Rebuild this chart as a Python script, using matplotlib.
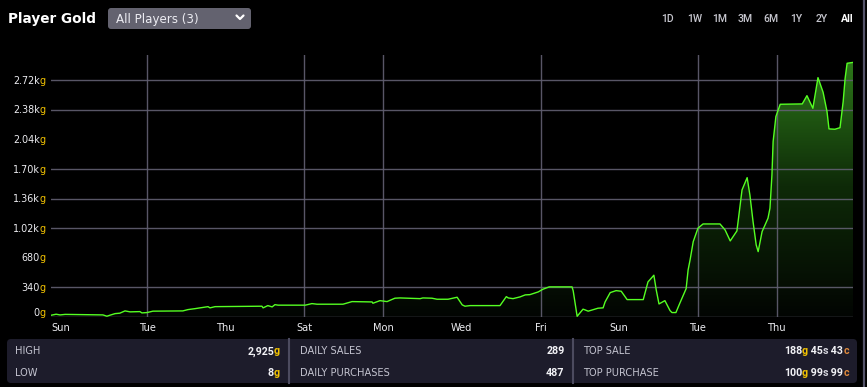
import numpy as np
import matplotlib
matplotlib.use("Agg")
import matplotlib.pyplot as plt
from matplotlib.colors import LinearSegmentedColormap
from matplotlib.patches import FancyBboxPatch
import matplotlib.transforms as mtransforms

# ---------------- data ----------------
days = [-0.44, -0.31, -0.21, -0.08, 0.88, 0.98, 1.06, 1.19, 1.31, 1.44, 1.57, 1.82, 1.87,
        2.00, 2.15, 2.91, 3.04, 3.22, 3.55, 3.60, 3.73, 4.92, 4.95, 5.07, 5.18, 5.25, 5.33,
        6.02, 6.19, 6.32, 6.98, 7.21, 7.72, 7.74, 7.92, 8.10, 8.18, 8.30, 8.43, 8.94, 9.01,
        9.24, 9.37, 9.65, 9.88, 10.01, 10.08, 10.21, 10.97, 11.13, 11.18, 11.30, 11.48, 11.61,
        11.73, 11.94, 12.06, 12.22, 12.80, 12.83, 12.93, 13.08, 13.13, 13.21, 13.38, 13.46,
        13.59, 13.64, 13.77, 13.92, 14.05, 14.20, 14.61, 14.73, 14.88, 14.94, 15.01, 15.16,
        15.29, 15.34, 15.44, 15.54, 15.70, 15.75, 15.80, 15.88, 16.00, 16.13, 16.56, 16.69,
        16.82, 16.99, 17.02, 17.12, 17.25, 17.32, 17.40, 17.48, 17.53, 17.63, 17.78, 17.83,
        17.88, 17.91, 17.98, 18.09, 18.65, 18.77, 18.92, 19.05, 19.18, 19.28, 19.33, 19.48,
        19.61, 19.69, 19.74, 19.79, 19.94]
gold = [20, 32, 24, 30, 24, 9, 21, 39, 44, 70, 59, 62, 47,
        51, 67, 70, 85, 96, 119, 105, 119, 124, 105, 131, 116, 142, 136,
        136, 154, 147, 147, 177, 173, 158, 188, 177, 193, 216, 219, 211, 219,
        216, 204, 204, 227, 139, 124, 131, 131, 234, 219, 211, 231, 254,
        257, 288, 319, 346, 346, 300, 8, 90, 82, 67, 90, 101,
        105, 173, 280, 303, 296, 200, 200, 403, 480, 311, 150, 188,
        74, 51, 51, 159, 326, 541, 656, 866, 1020, 1069, 1069, 1000,
        874, 989, 1096, 1460, 1601, 1402, 1096, 828, 751, 981, 1135, 1250,
        1632, 2015, 2302, 2444, 2448, 2543, 2398, 2750, 2582, 2359, 2161, 2157,
        2175, 2474, 2743, 2915, 2925]

ytick_values = [0, 340, 680, 1020, 1360, 1700, 2040, 2380, 2720]
ytick_labels = ["0", "340", "680", "1.02k", "1.36k", "1.70k", "2.04k", "2.38k", "2.72k"]
ygrid_values = [340, 1020, 1360, 1700, 2380, 2720]

xtick_pos = [-0.19, 2, 4, 6, 8, 10, 12, 14, 16, 18]
xtick_labels = ["Sun", "Tue", "Thu", "Sat", "Mon", "Wed", "Fri", "Sun", "Tue", "Thu"]
xgrid_pos = [2, 6, 8, 12, 16, 18]

ranges = ["1D", "1W", "1M", "3M", "6M", "1Y", "2Y", "All"]
range_x = [668, 694.5, 719.5, 745, 771, 796, 822, 847]

stats = [
    ("HIGH", [("2,925", "w"), ("g", "y")]),
    ("LOW", [("8", "w"), ("g", "y")]),
    ("DAILY SALES", [("289", "w")]),
    ("DAILY PURCHASES", [("487", "w")]),
    ("TOP SALE", [("188", "w"), ("g", "y"), (" 45", "w"), ("s", "s"), (" 43", "w"), ("c", "c")]),
    ("TOP PURCHASE", [("100", "w"), ("g", "y"), (" 99", "w"), ("s", "s"), (" 99", "w"), ("c", "c")]),
]

# ---------------- style ----------------
W, H = 867, 387
BG = "#000000"
GRID = "#626072"
LINE = "#55ff22"
YEL = "#f2c200"
COLS = {"w": "#f2f2f6", "y": YEL, "s": "#d4d4dc", "c": "#e08a3c"}
AXFONT = "DejaVu Sans"

fig = plt.figure(figsize=(W / 100, H / 100), dpi=100, facecolor=BG)

# background overlay in pixel coordinates
bg = fig.add_axes([0, 0, 1, 1], zorder=0)
bg.set_xlim(0, W)
bg.set_ylim(H, 0)
bg.axis("off")
bg.set_facecolor(BG)

ax = fig.add_axes([51 / W, 1 - 317 / H, (853 - 51) / W, (317 - 55) / H], zorder=1)
ax.set_facecolor(BG)
for s in ax.spines.values():
    s.set_visible(False)
ax.set_xticks([])
ax.set_yticks([])
xmin, xmax = days[0], days[-1]
ymax = 3010
ax.set_xlim(xmin, xmax)
ax.set_ylim(0, ymax)

x = np.array(days)
y = np.array(gold)

# gradient fill
poly = ax.fill_between(x, y, 0, color="none", lw=0)
cmap = LinearSegmentedColormap.from_list("g", ["#020502", "#0e2a08", "#2e7c1a"])
grad = np.linspace(0, 1, 256).reshape(-1, 1)
im = ax.imshow(grad, extent=[xmin, xmax, 0, ymax], origin="lower", aspect="auto",
               cmap=cmap, zorder=1, interpolation="bilinear")
im.set_clip_path(poly.get_paths()[0], ax.transData)

# grid
for v in ygrid_values:
    ax.axhline(v, color=GRID, lw=1.0, alpha=0.9, zorder=2)
ax.axhline(0, color=GRID, lw=1.0, zorder=2)
for v in xgrid_pos:
    ax.axvline(v, color=GRID, lw=1.0, alpha=0.9, zorder=2)

ax.plot(x, y, color=LINE, lw=1.0, zorder=3, solid_joinstyle="round")

# y tick labels
ytr = ax.get_yaxis_transform()
for v, lab in zip(ytick_values, ytick_labels):
    dy = 4.3 if v == 0 else 0
    t1 = mtransforms.offset_copy(ytr, fig=fig, x=-11.3, y=-3.6 + dy, units="dots")
    ax.text(0, v, lab, transform=t1, ha="right", va="baseline", color="#ececf0",
            fontsize=6.9, family=AXFONT, clip_on=False)
    ax.text(0, v, "g", transform=t1, ha="left", va="baseline", color=YEL,
            fontsize=6.9, family=AXFONT, clip_on=False)

# x tick labels
xtr = ax.get_xaxis_transform()
tx = mtransforms.offset_copy(xtr, fig=fig, x=0, y=-14, units="dots")
for p, lab in zip(xtick_pos, xtick_labels):
    ax.text(p, 0, lab, transform=tx, ha="center", va="baseline", color="#ececf0",
            fontsize=7.1, family=AXFONT, clip_on=False)

# ---------------- header ----------------
bg.text(8, 22.5, "Player Gold", ha="left", va="baseline", color="white",
        fontsize=9.8, fontweight="bold", family="DejaVu Sans")
bg.add_patch(FancyBboxPatch((108, 8), 143, 21, boxstyle="round,pad=0,rounding_size=3",
                            fc="#63626f", ec="none"))
bg.text(116, 22.7, "All Players (3)", ha="left", va="baseline", color="#ececf2",
        fontsize=8.6, family="DejaVu Sans")
bg.plot([236.5, 240, 243.5], [15.5, 19, 15.5], color="white", lw=1.6,
        solid_capstyle="round", solid_joinstyle="round")

for r, rx in zip(ranges, range_x):
    bold = r == "All"
    bg.text(rx, 22.3, r, ha="center", va="baseline",
            color="white" if bold else "#c6c6ce", fontsize=7.6,
            fontweight="bold" if bold else "medium", family="Roboto")

# right edge line
bg.plot([864, 864], [0, H], color="#55546a", lw=1.6)

# ---------------- stats panel ----------------
bg.add_patch(FancyBboxPatch((7, 339), 850, 44, boxstyle="round,pad=0,rounding_size=4",
                            fc="#1d1c2b", ec="none"))
for dx in (289.3, 573.3):
    bg.plot([dx, dx], [339, 383], color="#4c4b5f", lw=1.5)

renderer = fig.canvas.get_renderer()

def right_pieces(xr, yb, pieces, fs=7.7):
    texts = []
    for s, c in pieces:
        t = bg.text(0, yb, s, ha="left", va="baseline", color=COLS[c], fontsize=fs,
                    fontweight="bold", family="Roboto")
        texts.append(t)
    widths = [t.get_window_extent(renderer).width for t in texts]
    cur = xr - sum(widths)
    for t, w in zip(texts, widths):
        t.set_x(cur)
        cur += w

label_x = [15, 15, 299.5, 299.5, 583.5, 583.5]
value_x = [280, 280, 564.5, 564.5, 849, 849]
row_y = [354.3, 376]
for i, (lab, pieces) in enumerate(stats):
    yb = row_y[i % 2]
    bg.text(label_x[i], yb, lab, ha="left", va="baseline", color="#c4c4d0",
            fontsize=7.1, family="DejaVu Sans")
    right_pieces(value_x[i], yb, pieces)

fig.savefig("out.png", dpi=100, facecolor=BG)
